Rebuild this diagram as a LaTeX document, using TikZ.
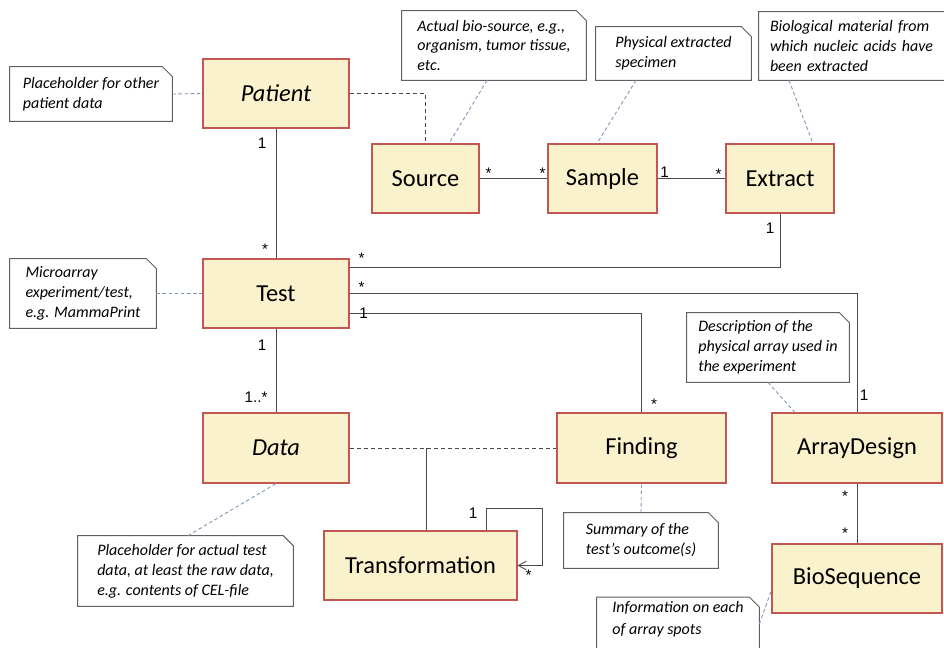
\documentclass[tikz,border=0pt]{standalone}
\usepackage{fontspec}
\setmainfont{Carlito}
\newfontfamily\multfont{Liberation Sans}
\usetikzlibrary{positioning,arrows.meta}

\definecolor{classfill}{RGB}{250,242,205}
\definecolor{classdraw}{RGB}{195,85,82}
\definecolor{assocline}{RGB}{72,72,72}
\definecolor{notedraw}{RGB}{96,96,96}
\definecolor{notelink}{RGB}{125,150,185}

\tikzset{
  umlclass/.style={draw=classdraw, fill=classfill, line width=0.6pt, inner sep=0pt,
    font=\fontsize{13.9}{16}\selectfont},
  notebox/.style={inner sep=0pt, align=left, font=\fontsize{9.1}{11.34}\selectfont\itshape},
  noteline/.style={draw=notedraw, line width=0.55pt},
  notelinkline/.style={draw=notelink, line width=0.5pt, dash pattern=on 2pt off 1.5pt},
  assoc/.style={draw=assocline, line width=0.5pt},
  depend/.style={draw=assocline, line width=0.5pt, dash pattern=on 2.3pt off 1.7pt},
  mult/.style={font=\multfont\fontsize{8.7}{10}\selectfont, inner sep=0pt},
}

\begin{document}
\begin{tikzpicture}[x=0.02cm,y=-0.02cm]
  \clip (0,0) rectangle (944,648);
  \fill[white] (0,0) rectangle (944,648);

  % classes
  \node[umlclass, minimum width=2.92cm, minimum height=1.38cm] (patient) at (276,93.5) {\itshape Patient};
  \node[umlclass, minimum width=2.14cm, minimum height=1.38cm] (source) at (425.5,178.5) {Source};
  \node[umlclass, minimum width=2.18cm, minimum height=1.38cm] (sample) at (602.5,178.5) {Sample};
  \node[umlclass, minimum width=2.16cm, minimum height=1.38cm] (extract) at (780,178.5) {Extract};
  \node[umlclass, minimum width=2.92cm, minimum height=1.38cm] (test) at (276,293.5) {Test};
  \node[umlclass, minimum width=2.92cm, minimum height=1.4cm] (data) at (276,448) {\itshape Data};
  \node[umlclass, minimum width=3.38cm, minimum height=1.4cm] (finding) at (641.5,448) {Finding};
  \node[umlclass, minimum width=3.4cm, minimum height=1.4cm] (arraydesign) at (857,448) {ArrayDesign};
  \node[umlclass, minimum width=3.86cm, minimum height=1.38cm] (transformation) at (420.5,565.5) {Transformation};
  \node[umlclass, minimum width=3.4cm, minimum height=1.38cm] (biosequence) at (857,578.5) {BioSequence};

  % notes
  \node[notebox, minimum width=3.24cm, minimum height=1.08cm] (npatient) at (91,94) {Placeholder for other\\patient data};
  \node[notebox, minimum width=3.68cm, minimum height=1.38cm] (nsource) at (494,45.5) {Actual bio-source, e.g.,\\organism, tumor tissue,\\etc.};
  \node[notebox, minimum width=3.1cm, minimum height=1.06cm] (nsample) at (673.5,53.5) {Physical extracted\\specimen};
  \node[notebox, text width=3.7cm, inner xsep=0.22cm, minimum height=1.36cm] (nextract) at (862.5,46) {Biological material from\\which nucleic acids have\\been extracted};
  \node[notebox, minimum width=2.92cm, minimum height=1.38cm] (ntest) at (83,293.5) {Microarray\\experiment/test,\\e.g. MammaPrint};
  \node[notebox, minimum width=3.24cm, minimum height=1.38cm] (narray) at (768,347.5) {Description of the\\physical array used in\\the experiment};
  \node[notebox, minimum width=4.3cm, minimum height=1.4cm] (ndata) at (185.5,571) {Placeholder for actual test\\data, at least the raw data,\\e.g. contents of CEL-file};
  \node[notebox, minimum width=3.08cm, minimum height=1.1cm] (nfinding) at (641,540.5) {Summary of the\\test’s outcome(s)};
  \node[notebox, minimum width=3.24cm, minimum height=1.22cm] (nbioseq) at (678,628) {Information on each\\[1pt]of array spots\\\mbox{}};

  \foreach \n in {npatient,nsource,nsample,nextract,ntest,narray,ndata,nfinding,nbioseq}
    \draw[noteline] (\n.south west) -- (\n.north west) -- ([shift={(-10,0)}]\n.north east)
      -- ([shift={(0,10)}]\n.north east) -- (\n.south east) -- cycle;

  % note links
  \draw[notelinkline] (npatient.east) -- (patient.west);
  \draw[notelinkline] (ntest.east) -- (test.west);
  \draw[notelinkline] ([shift={(-7,0)}]nsource.south) -- ([shift={(23.5,0)}]source.north);
  \draw[notelinkline] ([shift={(-37.5,0)}]nsample.south) -- ([shift={(-5.5,0)}]sample.north);
  \draw[notelinkline] ([shift={(-73.5,0)}]nextract.south) -- ([shift={(33,0)}]extract.north);
  \draw[notelinkline] (narray.south) -- ([shift={(-62,0)}]arraydesign.north);
  \draw[notelinkline] ([shift={(2.5,0)}]ndata.north) -- (data.south);
  \draw[notelinkline] (nfinding.north) -- (finding.south);
  \draw[notelinkline] ([shift={(0,-4)}]nbioseq.east) -- ([shift={(0,11.5)}]biosequence.west);

  % dependencies
  \draw[depend] (patient.east) -| (source.north);
  \draw[depend] (data.east) -- (finding.west);

  % associations
  \draw[assoc] (patient) -- (test);
  \draw[assoc] (source) -- (sample);
  \draw[assoc] (sample) -- (extract);
  \draw[assoc] ([shift={(0,-26.5)}]test.east) -| (extract.south);
  \draw[assoc] (test.east) -| (arraydesign.north);
  \draw[assoc] ([shift={(0,19.5)}]test.east) -| (finding.north);
  \draw[assoc] (test) -- (data);
  \draw[assoc] (arraydesign) -- (biosequence);
  \coordinate (tjoin) at ([shift={(5.5,0)}]transformation.north);
  \draw[assoc] (data.east -| tjoin) -- (tjoin);
  \coordinate (loopstart) at ([shift={(65.5,0)}]transformation.north);
  \draw[assoc, -{Straight Barb[length=4.5pt, width=5pt]}] (loopstart) -- ++(0,-22) -- ++(56,0)
    |- (transformation.east);

  % multiplicities
  \node[mult] (m1) at ([shift={(-14,15)}]patient.south) {1};
  \node[mult] (m2) at ([shift={(-11,-9)}]test.north) {*};
  \node[mult] (m3) at ([shift={(9,-5)}]source.east) {*};
  \node[mult] (m4) at ([shift={(-5,-5)}]sample.west) {*};
  \node[mult] (m5) at ([shift={(7,-6)}]sample.east) {1};
  \node[mult] (m6) at ([shift={(-7,-4)}]extract.west) {*};
  \node[mult] (m7) at ([shift={(12,-35.5)}]test.east) {*};
  \node[mult] (m8) at ([shift={(-10,15)}]extract.south) {1};
  \node[mult] (m9) at ([shift={(12,-6.5)}]test.east) {*};
  \node[mult] (m10) at ([shift={(7,-17)}]arraydesign.north) {1};
  \node[mult] (m11) at ([shift={(14,19.5)}]test.east) {1};
  \node[mult] (m12) at ([shift={(12.5,-8)}]finding.north) {*};
  \node[mult] (m13) at ([shift={(-14,17)}]test.south) {1};
  \node[mult] (m14) at ([shift={(-20,-15)}]data.north) {1..*};
  \node[mult] (m15) at ([shift={(-12,13)}]arraydesign.south) {*};
  \node[mult] (m16) at ([shift={(-12,-10)}]biosequence.north) {*};
  \node[mult] (m17) at ([shift={(-13,-17)}]loopstart) {1};
  \node[mult] (m18) at ([shift={(11,10)}]transformation.east) {*};
\end{tikzpicture}
\end{document}
